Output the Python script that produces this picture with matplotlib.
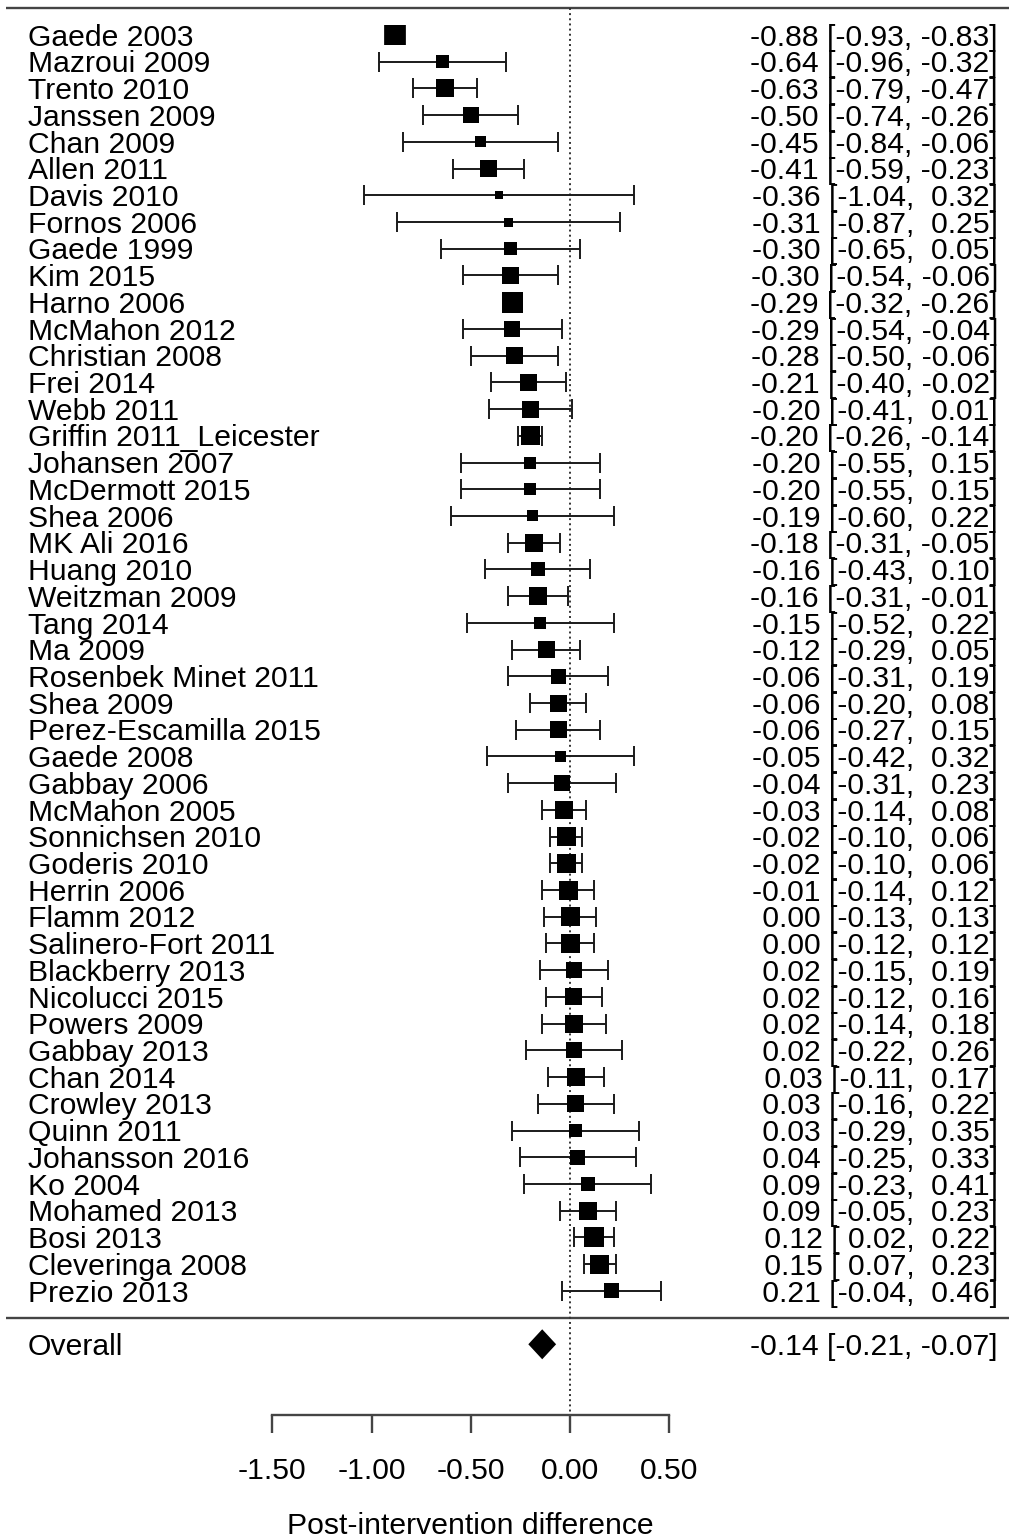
import numpy as np
import matplotlib
matplotlib.use('Agg')
import matplotlib.pyplot as plt
import matplotlib.transforms as mtransforms

# Datos del forest plot
estudios = ['Gaede 2003', 'Mazroui 2009', 'Trento 2010', 'Janssen 2009', 'Chan 2009',
            'Allen 2011', 'Davis 2010', 'Fornos 2006', 'Gaede 1999', 'Kim 2015',
            'Harno 2006', 'McMahon 2012', 'Christian 2008', 'Frei 2014', 'Webb 2011',
            'Griffin 2011_Leicester', 'Johansen 2007', 'McDermott 2015', 'Shea 2006',
            'MK Ali 2016', 'Huang 2010', 'Weitzman 2009', 'Tang 2014', 'Ma 2009',
            'Rosenbek Minet 2011', 'Shea 2009', 'Perez-Escamilla 2015', 'Gaede 2008',
            'Gabbay 2006', 'McMahon 2005', 'Sonnichsen 2010', 'Goderis 2010',
            'Herrin 2006', 'Flamm 2012', 'Salinero-Fort 2011', 'Blackberry 2013',
            'Nicolucci 2015', 'Powers 2009', 'Gabbay 2013', 'Chan 2014', 'Crowley 2013',
            'Quinn 2011', 'Johansson 2016', 'Ko 2004', 'Mohamed 2013', 'Bosi 2013',
            'Cleveringa 2008', 'Prezio 2013']

est = [-0.88, -0.64, -0.63, -0.50, -0.45, -0.41, -0.36, -0.31, -0.30, -0.30,
       -0.29, -0.29, -0.28, -0.21, -0.20, -0.20, -0.20, -0.20, -0.19, -0.18,
       -0.16, -0.16, -0.15, -0.12, -0.06, -0.06, -0.06, -0.05, -0.04, -0.03,
       -0.02, -0.02, -0.01, 0.00, 0.00, 0.02, 0.02, 0.02, 0.02, 0.03,
       0.03, 0.03, 0.04, 0.09, 0.09, 0.12, 0.15, 0.21]

ci_lo = [-0.93, -0.96, -0.79, -0.74, -0.84, -0.59, -1.04, -0.87, -0.65, -0.54,
         -0.32, -0.54, -0.50, -0.40, -0.41, -0.26, -0.55, -0.55, -0.60, -0.31,
         -0.43, -0.31, -0.52, -0.29, -0.31, -0.20, -0.27, -0.42, -0.31, -0.14,
         -0.10, -0.10, -0.14, -0.13, -0.12, -0.15, -0.12, -0.14, -0.22, -0.11,
         -0.16, -0.29, -0.25, -0.23, -0.05, 0.02, 0.07, -0.04]

ci_hi = [-0.83, -0.32, -0.47, -0.26, -0.06, -0.23, 0.32, 0.25, 0.05, -0.06,
         -0.26, -0.04, -0.06, -0.02, 0.01, -0.14, 0.15, 0.15, 0.22, -0.05,
         0.10, -0.01, 0.22, 0.05, 0.19, 0.08, 0.15, 0.32, 0.23, 0.08,
         0.06, 0.06, 0.12, 0.13, 0.12, 0.19, 0.16, 0.18, 0.26, 0.17,
         0.22, 0.35, 0.33, 0.41, 0.23, 0.22, 0.23, 0.46]

# peso relativo de cada estudio (tamano del cuadrado)
psize = [20, 13, 18, 16, 11, 17, 8, 9, 13, 17,
         21, 16, 17, 17, 17, 19, 12, 12, 11, 18,
         14, 18, 12, 17, 15, 17, 17, 11, 16, 18,
         19, 19, 19, 19, 19, 16, 17, 18, 16, 18,
         17, 13, 15, 14, 18, 20, 19, 15]

overall = [-0.14, -0.21, -0.07]
xticks = [-1.5, -1.0, -0.5, 0.0, 0.5]

#####################################################################
# Figura
#####################################################################
plt.rc('font', family=['Liberation Sans', 'DejaVu Sans'])
fs = 21.7
W, H = 1009, 1540
dpi = 100
fig = plt.figure(figsize=(W / dpi, H / dpi), dpi=dpi, facecolor='w')

# escala: -1.5 -> 272 px, 0.5 -> 669 px
x0px, ppu = 570.0, 198.5
row0, drow = 35.0, 26.72
ax_bot = 1415.0
ax = fig.add_axes([0, (H - ax_bot) / H, 1, ax_bot / H])
ax.set_xlim(-x0px / ppu, (W - x0px) / ppu)
ax.set_ylim((ax_bot - row0) / drow, -row0 / drow)

k = len(est)
rows = np.arange(k)
trans = mtransforms.blended_transform_factory(ax.transAxes, ax.transData)
col = '#1a1a1a'
base = 10.7 / drow   # desplazamiento a la linea base del texto

# lineas horizontales
ax.hlines([-1, k], 6 / W, 1, transform=trans, color='#444444', lw=1.7)
# linea de referencia en cero
ax.vlines(0, -1, (ax_bot - row0) / drow, color='#333333', lw=1.4, linestyles=':')

# intervalos de confianza
cap = 10.0 / drow
ax.hlines(rows, ci_lo, ci_hi, color=col, lw=1.4)
ax.vlines(ci_lo, rows - cap, rows + cap, color=col, lw=1.4)
ax.vlines(ci_hi, rows - cap, rows + cap, color=col, lw=1.4)
ax.scatter(est, rows, s=(np.array(psize) * 0.72) ** 2, marker='s', color='k',
           linewidths=0, zorder=3)

# estimador global
yo = k + 1
dh = 15.0 / drow
ax.fill([overall[1], overall[0], overall[2], overall[0]],
        [yo, yo - dh, yo, yo + dh], color='k', lw=0)

# textos
for i in range(k):
    ax.text(28 / W, i + base, estudios[i], transform=trans, ha='left', va='baseline',
            fontsize=fs)
    ax.text(998 / W, i + base, '%5.2f [%5.2f, %5.2f]' % (est[i], ci_lo[i], ci_hi[i]),
            transform=trans, ha='right', va='baseline', fontsize=fs)
ax.text(28 / W, yo + base, 'Overall', transform=trans, ha='left', va='baseline', fontsize=fs)
ax.text(998 / W, yo + base, '%5.2f [%5.2f, %5.2f]' % tuple(overall),
        transform=trans, ha='right', va='baseline', fontsize=fs)

# eje x
for s in ['top', 'left', 'right']:
    ax.spines[s].set_visible(False)
ax.spines['bottom'].set_bounds(xticks[0], xticks[-1])
ax.spines['bottom'].set_color('#444444')
ax.spines['bottom'].set_linewidth(1.7)
ax.set_yticks([])
ax.set_xticks(xticks)
ax.set_xticklabels(['%.2f' % t for t in xticks])
ax.tick_params(axis='x', direction='out', length=13, width=1.7, color='#444444',
               labelsize=fs, pad=17)
xl = (-0.5 - ax.get_xlim()[0]) / (ax.get_xlim()[1] - ax.get_xlim()[0])
ax.set_xlabel('Post-intervention difference', fontsize=fs, labelpad=20, x=xl)
ax.patch.set_visible(False)

fig.savefig('out.png', dpi=dpi)
